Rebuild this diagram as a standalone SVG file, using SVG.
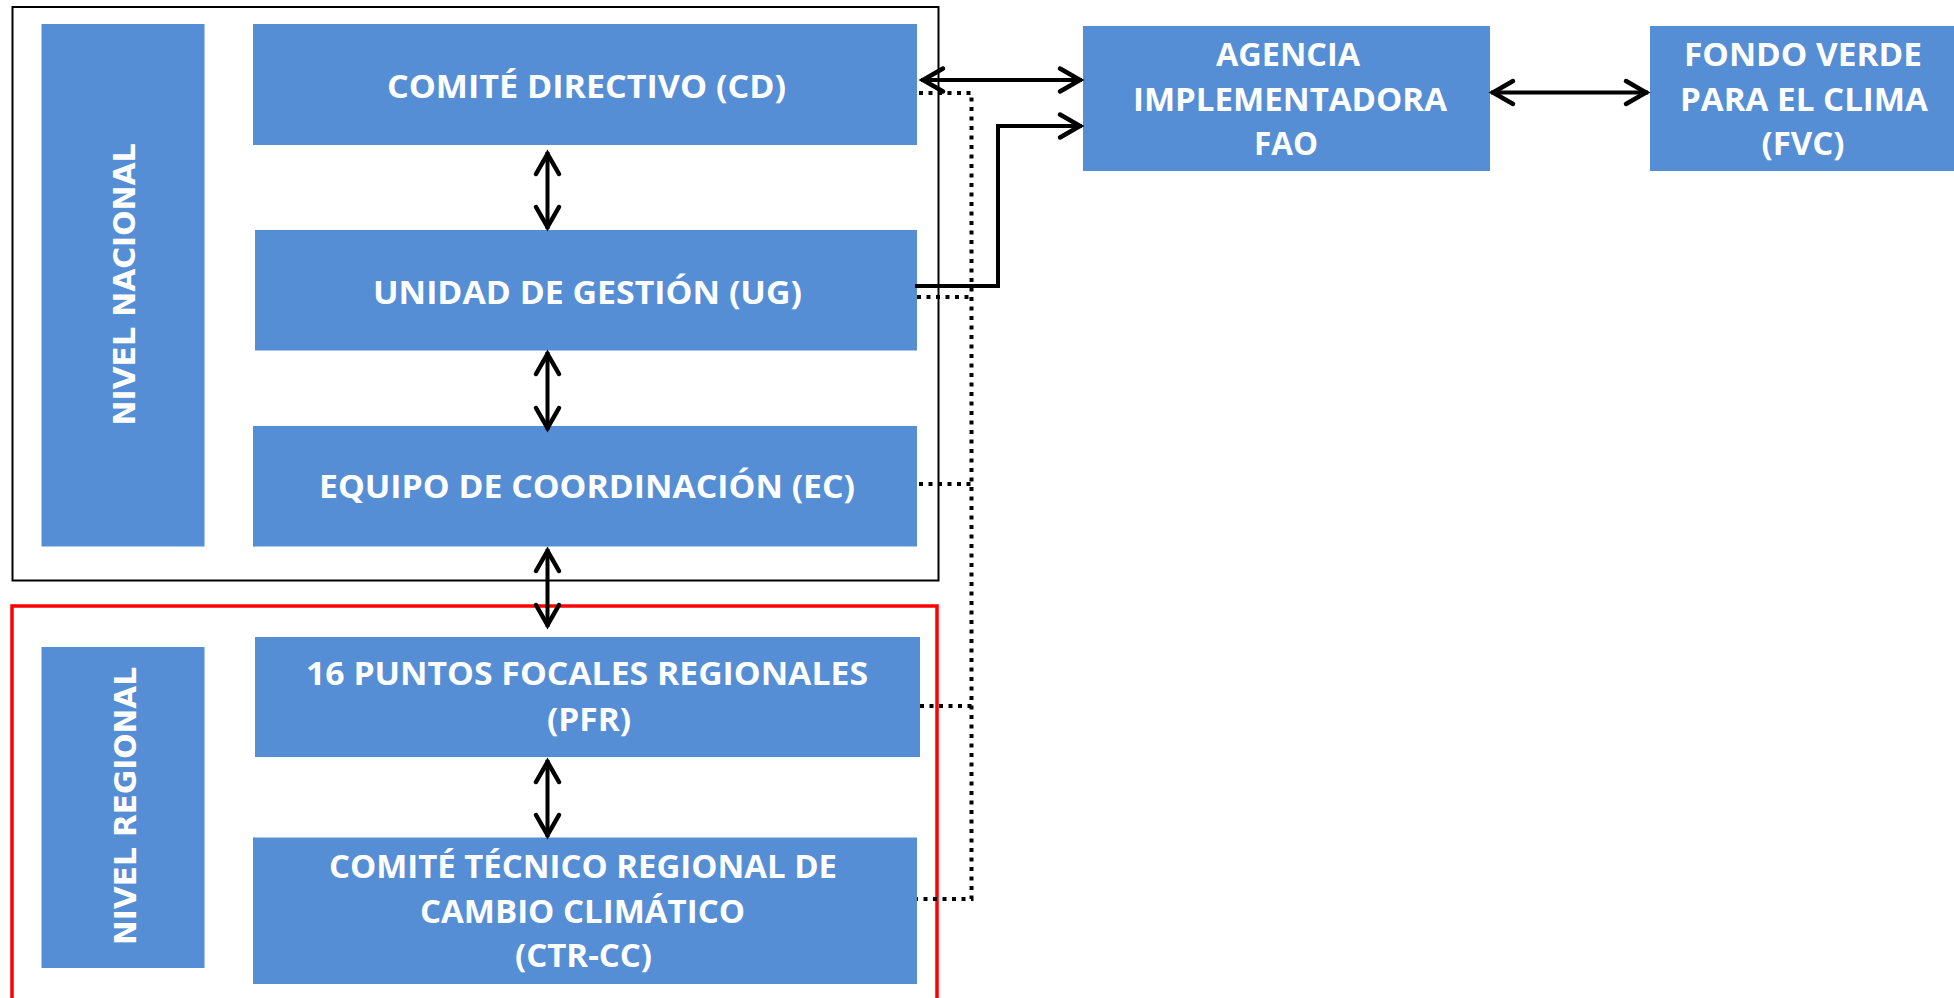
<svg xmlns="http://www.w3.org/2000/svg" width="1954" height="998" viewBox="0 0 1954 998">
<style>
.box{fill:#558ED5;}
.t{font-family:"Open Sans","Noto Sans","Liberation Sans",sans-serif;font-weight:700;font-size:32px;fill:#FFFFFF;text-anchor:middle;}
.v{font-family:"DejaVu Sans","Liberation Sans",sans-serif;font-weight:700;font-size:30px;fill:#FFFFFF;text-anchor:middle;}
.arr{fill:none;stroke:#000;stroke-width:4;}
.dot{fill:none;stroke:#000;stroke-width:4;stroke-dasharray:4 5.5;}
</style>
<defs>
<marker id="ah" viewBox="-30 -15 36 30" refX="0" refY="0" markerWidth="36" markerHeight="30" markerUnits="userSpaceOnUse" orient="auto-start-reverse" overflow="visible">
<path d="M-22,-11.5 L-2,0 L-22,11.5" fill="none" stroke="#000" stroke-width="4.5" stroke-linecap="round"/>
</marker>
</defs>
<rect width="1954" height="998" fill="#FFFFFF"/>
<g id="frame-nacional">
<rect x="12.5" y="7" width="926" height="573.5" fill="none" stroke="#000" stroke-width="2"/>
</g>
<g id="frame-regional">
<rect x="12" y="606" width="925" height="420" fill="none" stroke="#FF0000" stroke-width="3.5"/>
</g>
<g id="nivel-nacional">
<rect class="box" x="41.5" y="24" width="163" height="522.5"/>
<text class="v" x="135" y="284.5" transform="rotate(-90 135 284.5)" textLength="282" lengthAdjust="spacingAndGlyphs">NIVEL NACIONAL</text>
</g>
<g id="nivel-regional">
<rect class="box" x="41.5" y="647" width="163" height="321"/>
<text class="v" x="136" y="806" transform="rotate(-90 136 806)" textLength="278" lengthAdjust="spacingAndGlyphs">NIVEL REGIONAL</text>
</g>
<g id="cd">
<rect class="box" x="253" y="24" width="664" height="121"/>
<text class="t" x="586.5" y="98" textLength="399" lengthAdjust="spacingAndGlyphs">COMITÉ DIRECTIVO (CD)</text>
</g>
<g id="ug">
<rect class="box" x="255" y="230" width="662" height="120.5"/>
<text class="t" x="587.5" y="304" textLength="429" lengthAdjust="spacingAndGlyphs">UNIDAD DE GESTIÓN (UG)</text>
</g>
<g id="ec">
<rect class="box" x="253" y="426" width="664" height="120.5"/>
<text class="t" x="587" y="497.5" textLength="536" lengthAdjust="spacingAndGlyphs">EQUIPO DE COORDINACIÓN (EC)</text>
</g>
<g id="pfr">
<rect class="box" x="255" y="637" width="665" height="120"/>
<text class="t" x="587" y="685" textLength="562" lengthAdjust="spacingAndGlyphs">16 PUNTOS FOCALES REGIONALES</text>
<text class="t" x="589" y="731" textLength="84" lengthAdjust="spacingAndGlyphs">(PFR)</text>
</g>
<g id="ctr">
<rect class="box" x="253" y="837.5" width="664" height="146.5"/>
<text class="t" x="583" y="878" textLength="508" lengthAdjust="spacingAndGlyphs">COMITÉ TÉCNICO REGIONAL DE</text>
<text class="t" x="582.5" y="922.5" textLength="325" lengthAdjust="spacingAndGlyphs">CAMBIO CLIMÁTICO</text>
<text class="t" x="583.5" y="967" textLength="137" lengthAdjust="spacingAndGlyphs">(CTR-CC)</text>
</g>
<g id="fao">
<rect class="box" x="1083" y="26" width="407" height="145"/>
<text class="t" x="1288" y="66" textLength="144" lengthAdjust="spacingAndGlyphs">AGENCIA</text>
<text class="t" x="1290" y="110.5" textLength="314" lengthAdjust="spacingAndGlyphs">IMPLEMENTADORA</text>
<text class="t" x="1286" y="155" textLength="64" lengthAdjust="spacingAndGlyphs">FAO</text>
</g>
<g id="fvc">
<rect class="box" x="1650" y="26" width="310" height="145"/>
<text class="t" x="1803" y="66" textLength="238" lengthAdjust="spacingAndGlyphs">FONDO VERDE</text>
<text class="t" x="1804" y="110.5" textLength="248" lengthAdjust="spacingAndGlyphs">PARA EL CLIMA</text>
<text class="t" x="1803" y="155" textLength="83" lengthAdjust="spacingAndGlyphs">(FVC)</text>
</g>
<g id="connectors">
<line class="arr" x1="921" y1="80" x2="1082" y2="80" marker-start="url(#ah)" marker-end="url(#ah)"/>
<polyline class="arr" points="915,286 998,286 998,126 1082,126" stroke-width="3.5" marker-end="url(#ah)"/>
<line class="arr" x1="1491" y1="92.5" x2="1648" y2="92.5" marker-start="url(#ah)" marker-end="url(#ah)"/>
<line class="arr" x1="547.5" y1="152" x2="547.5" y2="229" marker-start="url(#ah)" marker-end="url(#ah)"/>
<line class="arr" x1="547.5" y1="352" x2="547.5" y2="430" marker-start="url(#ah)" marker-end="url(#ah)"/>
<line class="arr" x1="547.5" y1="549" x2="547.5" y2="627" marker-start="url(#ah)" marker-end="url(#ah)"/>
<line class="arr" x1="547.5" y1="760" x2="547.5" y2="837" marker-start="url(#ah)" marker-end="url(#ah)"/>
<polyline class="dot" points="919,93 971.5,93 971.5,899 917,899"/>
<line class="dot" x1="917" y1="297" x2="971.5" y2="297"/>
<line class="dot" x1="919" y1="484" x2="971.5" y2="484"/>
<line class="dot" x1="920" y1="706" x2="971.5" y2="706"/>
</g>
</svg>
